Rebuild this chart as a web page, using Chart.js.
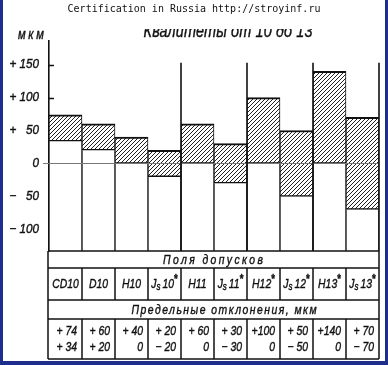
<!DOCTYPE html>
<html>
<head>
<meta charset="utf-8">
<script src="https://cdn.jsdelivr.net/npm/chart.js@4.4.0/dist/chart.umd.min.js"></script>
<style>
  html, body { margin: 0; padding: 0; background: #fff; }
  #wrap { width: 388px; height: 365px; }
</style>
</head>
<body>
<div id="wrap"><canvas id="chart" width="388" height="365"></canvas></div>
<script>
// tolerance fields and their limit deviations, um
var fields = ['CD10', 'D10', 'H10', 'Js10*', 'H11', 'Js11*', 'H12*', 'Js12*', 'H13*', 'Js13*'];
var upperDev = [74, 60, 40, 20, 60, 30, 100, 50, 140, 70];
var lowerDev = [34, 20, 0, -20, 0, -30, 0, -50, 0, -70];
var yTicks = [150, 100, 50, 0, -50, -100];
var groupEnds = [3, 5, 7, 9]; // last field of each quality grade
var yMin = -133, yMax = 186, sepTop = 153;

var FONT = "'Liberation Sans', Arial, sans-serif";
var INK = '#111';
var SX = 0.8; // the drawing lettering is narrow

function makeHatch() {
  var p = document.createElement('canvas');
  p.width = 4; p.height = 4;
  var g = p.getContext('2d');
  g.fillStyle = '#fff';
  g.fillRect(0, 0, 4, 4);
  g.strokeStyle = '#222';
  g.lineWidth = 1;
  g.beginPath();
  g.moveTo(0, 4); g.lineTo(4, 0);
  g.moveTo(-1, 1); g.lineTo(1, -1);
  g.moveTo(3, 5); g.lineTo(5, 3);
  g.stroke();
  return g.createPattern(p, 'repeat');
}

function fmt(v) {
  if (v === 0) return '0';
  var a = Math.abs(v);
  return (v > 0 ? '+' : '\u2212') + (a < 100 ? ' ' : '') + a;
}

// narrow, slightly heavy text squeezed around the anchor point
function ntext(ctx, s, x, y, align, sx) {
  ctx.save();
  ctx.translate(x, y);
  ctx.scale(sx, 1);
  ctx.textAlign = align;
  ctx.fillText(s, 0, 0);
  ctx.lineWidth = 0.4;
  ctx.strokeStyle = ctx.fillStyle;
  ctx.strokeText(s, 0, 0);
  ctx.restore();
}

// spaced lettering filling a given width, centred on cx
function spaced(ctx, s, cx, y, width, sx) {
  ctx.letterSpacing = '0px';
  var w = ctx.measureText(s).width;
  var ls = (width / sx - w) / (s.length - 1);
  ctx.letterSpacing = ls.toFixed(2) + 'px';
  ntext(ctx, s, cx - width / 2, y, 'left', sx);
  ctx.letterSpacing = '0px';
}

function drawField(ctx, label, cx, cy) {
  var js = label.indexOf('Js') === 0;
  var star = label.slice(-1) === '*';
  var core = label.replace(/^Js/, '').replace(/\*$/, '');
  var parts = [];
  if (js) {
    parts.push({ t: 'J', f: 'italic 13px ' + FONT, dy: 0, gap: 0 });
    parts.push({ t: 's', f: 'italic 10px ' + FONT, dy: 3, gap: 2 });
  }
  parts.push({ t: core, f: 'italic 13px ' + FONT, dy: 0, gap: 0 });
  if (star) parts.push({ t: '*', f: 'bold 12px ' + FONT, dy: -4, gap: 0 });
  var w = 0;
  parts.forEach(function (p) { ctx.font = p.f; p.w = ctx.measureText(p.t).width * SX; w += p.w + p.gap; });
  var x = cx - w / 2;
  ctx.textBaseline = 'middle';
  parts.forEach(function (p) {
    ctx.font = p.f;
    ntext(ctx, p.t, x, cy + p.dy, 'left', SX);
    x += p.w + p.gap;
  });
}

var sheet = {
  id: 'sheet',
  beforeDatasetsDraw: function (chart) {
    var ctx = chart.ctx, y = chart.scales.y, a = chart.chartArea;
    ctx.save();
    ctx.strokeStyle = INK;
    ctx.lineWidth = 1.5;
    yTicks.forEach(function (v) {
      if (v === 0) return;
      var py = Math.round(y.getPixelForValue(v)) + 0.5;
      ctx.beginPath(); ctx.moveTo(a.left, py); ctx.lineTo(a.left + 5, py); ctx.stroke();
    });
    ctx.restore();
  },
  afterDatasetsDraw: function (chart) {
    var ctx = chart.ctx, x = chart.scales.x, y = chart.scales.y, a = chart.chartArea;
    var step = a.width / fields.length;
    ctx.save();
    // zero line
    var z = Math.round(y.getPixelForValue(0)) + 0.5;
    ctx.strokeStyle = '#777';
    ctx.lineWidth = 1;
    ctx.beginPath(); ctx.moveTo(a.left - 6, z); ctx.lineTo(a.right, z); ctx.stroke();
    // quality grade separators
    ctx.strokeStyle = INK;
    ctx.lineWidth = 1.6;
    groupEnds.forEach(function (i) {
      var px = x.getPixelForValue(i) + step / 2;
      ctx.beginPath(); ctx.moveTo(px, y.getPixelForValue(sepTop)); ctx.lineTo(px, a.bottom); ctx.stroke();
    });
    ctx.restore();
  },
  afterDraw: function (chart) {
    var ctx = chart.ctx, x = chart.scales.x, y = chart.scales.y, a = chart.chartArea;
    var step = a.width / fields.length;
    var L = a.left - 1, R = a.right;
    ctx.save();
    ctx.fillStyle = INK;

    // y labels
    ctx.font = 'italic 13px ' + FONT;
    ctx.textBaseline = 'middle';
    yTicks.forEach(function (v) {
      var py = y.getPixelForValue(v);
      ntext(ctx, String(Math.abs(v)), 39, py, 'right', 0.9);
      if (v !== 0) ntext(ctx, v > 0 ? '+' : '\u2212', 13, py, 'center', 0.9);
    });
    ctx.font = 'italic 14px ' + FONT;
    spaced(ctx, 'мкм', 31, 35, 26, SX);

    // table
    var rows = [a.bottom, 268, 300, 319, 359];
    ctx.strokeStyle = INK;
    ctx.lineWidth = 1.5;
    rows.forEach(function (ry) {
      ctx.beginPath(); ctx.moveTo(L, ry); ctx.lineTo(R, ry); ctx.stroke();
    });
    ctx.beginPath();
    ctx.moveTo(L, a.bottom); ctx.lineTo(L, rows[4]);
    ctx.moveTo(R, a.bottom); ctx.lineTo(R, rows[4]);
    ctx.stroke();
    for (var i = 1; i < fields.length; i++) {
      var ex = x.getPixelForValue(i) - step / 2;
      ctx.beginPath();
      ctx.moveTo(ex, rows[1]); ctx.lineTo(ex, rows[2]);
      ctx.moveTo(ex, rows[3]); ctx.lineTo(ex, rows[4]);
      ctx.stroke();
    }

    ctx.font = 'italic 13px ' + FONT;
    ctx.textBaseline = 'middle';
    spaced(ctx, 'Поля допусков', 213, (rows[0] + rows[1]) / 2 + 1, 100, SX);
    spaced(ctx, 'Предельные отклонения, мкм', 224, (rows[2] + rows[3]) / 2 + 1, 185, SX);

    fields.forEach(function (f, i) {
      drawField(ctx, f, x.getPixelForValue(i), (rows[1] + rows[2]) / 2);
    });

    ctx.font = 'italic 13px ' + FONT;
    fields.forEach(function (f, i) {
      var rx = x.getPixelForValue(i) + step / 2 - 5;
      ntext(ctx, fmt(upperDev[i]), rx, 331, 'right', SX);
      ntext(ctx, fmt(lowerDev[i]), rx, 347, 'right', SX);
    });

    // title, cut off by the header strip as in the scan
    ctx.font = 'italic 18px ' + FONT;
    ctx.textBaseline = 'alphabetic';
    spaced(ctx, 'Квалитеты от 10 до 13', 228, 37, 169, SX);
    ctx.fillStyle = '#fff';
    ctx.fillRect(0, 0, 388, 29);

    ctx.fillStyle = '#111';
    ctx.font = "10px 'DejaVu Sans Mono', monospace";
    ctx.textAlign = 'center';
    ctx.textBaseline = 'middle';
    ctx.fillText('Certification in Russia http://stroyinf.ru', 194, 9);

    // scan frame
    ctx.fillStyle = '#1f2d8c';
    ctx.fillRect(0, 0, 3, 365);
    ctx.fillRect(385, 0, 3, 365);
    ctx.fillRect(0, 361, 388, 4);
    ctx.restore();
  }
};

var hatch = makeHatch();

new Chart(document.getElementById('chart'), {
  type: 'bar',
  data: {
    labels: fields,
    datasets: [
      {
        data: fields.map(function (f, i) { return [lowerDev[i], upperDev[i]]; }),
        backgroundColor: hatch,
        borderColor: INK,
        borderWidth: { top: 2, bottom: 1.5, left: 1, right: 1 },
        borderSkipped: false,
        grouped: false,
        categoryPercentage: 1,
        barPercentage: 1,
        order: 1
      },
      {
        data: fields.map(function (f, i) { return [yMin, lowerDev[i]]; }),
        backgroundColor: '#fff',
        borderColor: INK,
        borderWidth: { top: 0, bottom: 0, left: 1, right: 1 },
        borderSkipped: false,
        grouped: false,
        categoryPercentage: 1,
        barPercentage: 1,
        order: 2
      }
    ]
  },
  options: {
    responsive: false,
    animation: false,
    layout: { padding: { top: 41, right: 9, bottom: 114, left: 0 } },
    plugins: { legend: { display: false }, tooltip: { enabled: false } },
    scales: {
      x: { display: false },
      y: {
        min: yMin,
        max: yMax,
        grid: { display: false, drawTicks: false },
        border: { display: true, color: INK, width: 1.6 },
        ticks: { display: false },
        afterFit: function (s) { s.width = 49; }
      }
    }
  },
  plugins: [sheet]
});
</script>
</body>
</html>
